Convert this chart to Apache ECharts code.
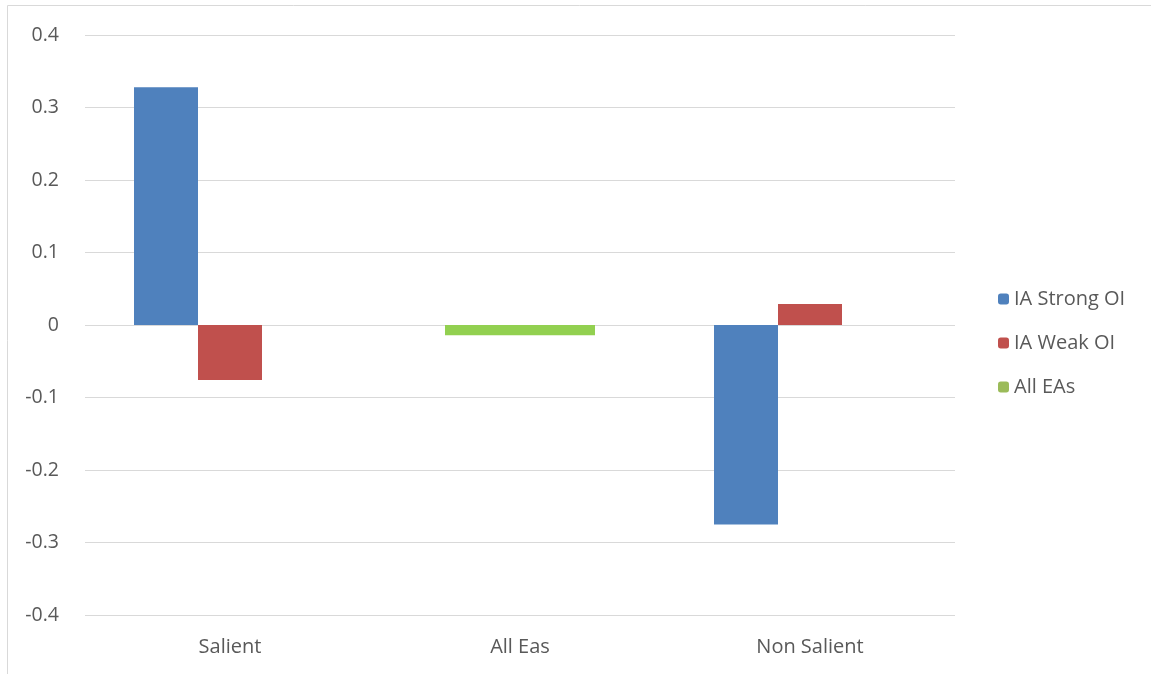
<!DOCTYPE html>
<html>
<head>
<meta charset="utf-8">
<style>
  html, body { margin: 0; padding: 0; background: #fff; }
  #chart { width: 1151px; height: 674px; }
</style>
<script src="https://cdn.jsdelivr.net/npm/echarts@6/dist/echarts.min.js"></script>
</head>
<body>
<div id="chart"></div>
<script>
// data
var categories = ['Salient', 'All Eas', 'Non Salient'];
var strongOI = [0.328, null, -0.275];
var weakOI = [-0.076, null, 0.029];
var allEAs = [null, -0.014, null];

var myChart = echarts.init(document.getElementById('chart'));

var labelColor = '#595959';
var lineColor = '#d9d9d9';

var option = {
    animation: false,
    textStyle: { fontFamily: 'Open Sans' },
    graphic: [{
        type: 'rect',
        shape: { x: 7.5, y: 5.5, width: 1150, height: 680 },
        style: { fill: 'none', stroke: lineColor, lineWidth: 1 },
        silent: true
    }],
    legend: {
        orient: 'vertical',
        left: 993,
        top: 284,
        itemWidth: 11,
        itemHeight: 11,
        itemGap: 24,
        textStyle: { color: labelColor, fontSize: 20, fontFamily: 'Open Sans' },
        data: [
            { name: 'IA Strong OI' },
            { name: 'IA Weak OI' },
            { name: 'All EAs', itemStyle: { color: '#9bbb59' } }
        ]
    },
    grid: { left: 85, right: 196, top: 35, bottom: 59 },
    xAxis: [{
        type: 'category',
        data: categories,
        position: 'bottom',
        axisLine: { show: false, onZero: false },
        axisTick: { show: false },
        axisLabel: { color: labelColor, fontSize: 20, margin: 22 }
    }, {
        type: 'category',
        data: categories,
        show: false
    }],
    yAxis: {
        type: 'value',
        min: -0.4,
        max: 0.4,
        interval: 0.1,
        axisLine: { show: false },
        axisTick: { show: false },
        axisLabel: { color: labelColor, fontSize: 19.5, margin: 26 },
        splitLine: { lineStyle: { color: lineColor, width: 1 } }
    },
    series: [{
        name: 'IA Strong OI',
        type: 'bar',
        xAxisIndex: 0,
        barWidth: 64,
        barGap: '0%',
        itemStyle: { color: '#4f81bd' },
        data: strongOI
    }, {
        name: 'IA Weak OI',
        type: 'bar',
        xAxisIndex: 0,
        barWidth: 64,
        barGap: '0%',
        itemStyle: { color: '#c0504d' },
        data: weakOI
    }, {
        // empty third slot, as in the source's clustered layout
        name: '',
        type: 'bar',
        xAxisIndex: 0,
        barWidth: 64,
        barGap: '0%',
        data: [null, null, null]
    }, {
        name: 'All EAs',
        type: 'bar',
        xAxisIndex: 1,
        barWidth: 150,
        itemStyle: { color: '#92d050' },
        data: allEAs
    }]
};

myChart.setOption(option);
</script>
</body>
</html>
